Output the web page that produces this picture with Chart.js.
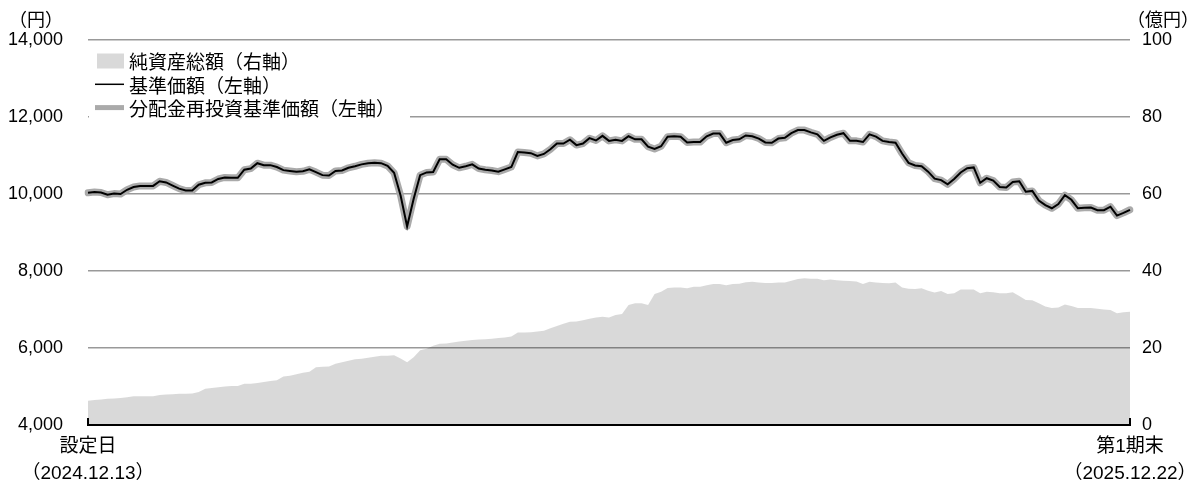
<!DOCTYPE html>
<html lang="ja">
<head>
<meta charset="UTF-8">
<title>基準価額・純資産の推移</title>
<script src="https://cdn.jsdelivr.net/npm/chart.js@4.4.0/dist/chart.umd.min.js"></script>
<style>
  body { margin: 0; background: #fff; }
</style>
</head>
<body>
<canvas id="chart" width="1195" height="482"></canvas>
<script>
// 基準価額（円）
const basePrice = [
  10030, 10050, 10040, 9980, 10010, 10000, 10110, 10180, 10210, 10210,
  10210, 10330, 10300, 10220, 10140, 10090, 10090, 10240, 10290, 10300,
  10390, 10430, 10420, 10420, 10630, 10660, 10800, 10750, 10750, 10700,
  10620, 10600, 10580, 10590, 10640, 10570, 10490, 10480, 10600, 10610,
  10680, 10720, 10770, 10800, 10810, 10800, 10730, 10550, 9960, 9160,
  9870, 10490, 10560, 10570, 10900, 10900, 10760, 10680, 10720, 10770,
  10660, 10630, 10610, 10580, 10640, 10700, 11090, 11080, 11060, 10990,
  11040, 11160, 11310, 11310, 11410, 11270, 11310, 11450, 11390, 11510,
  11380, 11410, 11380, 11500, 11420, 11420, 11230, 11170, 11240, 11490,
  11500, 11490, 11340, 11350, 11350, 11500, 11570, 11570, 11330, 11400,
  11420, 11520, 11500, 11440, 11340, 11330, 11440, 11460, 11580, 11660,
  11660, 11600, 11550, 11380, 11470, 11540, 11580, 11380, 11380, 11350,
  11550, 11490, 11380, 11350, 11330, 11050, 10810, 10740, 10720, 10580,
  10400, 10360, 10250, 10390, 10560, 10670, 10690, 10290, 10410, 10350,
  10180, 10170, 10310, 10330, 10060, 10080, 9830, 9710, 9630, 9740,
  9970, 9850, 9630, 9640, 9650, 9580, 9580, 9670, 9440, 9510, 9590
];
// 分配金再投資基準価額（円）: 分配なしのため基準価額と重なる
const reinvestPrice = [
  10030, 10050, 10040, 9980, 10010, 10000, 10110, 10180, 10210, 10210,
  10210, 10330, 10300, 10220, 10140, 10090, 10090, 10240, 10290, 10300,
  10390, 10430, 10420, 10420, 10630, 10660, 10800, 10750, 10750, 10700,
  10620, 10600, 10580, 10590, 10640, 10570, 10490, 10480, 10600, 10610,
  10680, 10720, 10770, 10800, 10810, 10800, 10730, 10550, 9960, 9160,
  9870, 10490, 10560, 10570, 10900, 10900, 10760, 10680, 10720, 10770,
  10660, 10630, 10610, 10580, 10640, 10700, 11090, 11080, 11060, 10990,
  11040, 11160, 11310, 11310, 11410, 11270, 11310, 11450, 11390, 11510,
  11380, 11410, 11380, 11500, 11420, 11420, 11230, 11170, 11240, 11490,
  11500, 11490, 11340, 11350, 11350, 11500, 11570, 11570, 11330, 11400,
  11420, 11520, 11500, 11440, 11340, 11330, 11440, 11460, 11580, 11660,
  11660, 11600, 11550, 11380, 11470, 11540, 11580, 11380, 11380, 11350,
  11550, 11490, 11380, 11350, 11330, 11050, 10810, 10740, 10720, 10580,
  10400, 10360, 10250, 10390, 10560, 10670, 10690, 10290, 10410, 10350,
  10180, 10170, 10310, 10330, 10060, 10080, 9830, 9710, 9630, 9740,
  9970, 9850, 9630, 9640, 9650, 9580, 9580, 9670, 9440, 9510, 9590
];
// 純資産総額（億円）
const netAssets = [
  6.3, 6.5, 6.6, 6.8, 6.9, 7.0, 7.2, 7.5, 7.5, 7.5,
  7.5, 7.8, 7.9, 8.0, 8.1, 8.1, 8.2, 8.6, 9.4, 9.6,
  9.8, 10.0, 10.1, 10.1, 10.7, 10.7, 10.9, 11.2, 11.4, 11.6,
  12.6, 12.8, 13.2, 13.6, 13.8, 15.0, 15.1, 15.2, 15.9, 16.3,
  16.7, 17.1, 17.2, 17.5, 17.7, 18.0, 18.0, 18.1, 17.3, 16.3,
  17.6, 19.4, 19.8, 20.6, 21.1, 21.2, 21.4, 21.7, 21.9, 22.1,
  22.2, 22.3, 22.4, 22.6, 22.7, 23.0, 24.0, 24.0, 24.1, 24.3,
  24.5, 25.1, 25.7, 26.3, 26.8, 26.9, 27.2, 27.6, 27.9, 28.1,
  27.9, 28.6, 28.8, 31.2, 31.6, 31.6, 31.2, 34.0, 34.6, 35.6,
  35.7, 35.7, 35.5, 35.9, 35.9, 36.3, 36.6, 36.6, 36.3, 36.6,
  36.7, 37.1, 37.2, 37.0, 36.9, 36.9, 37.0, 37.0, 37.5, 37.9,
  38.1, 38.0, 38.0, 37.6, 37.8, 37.6, 37.5, 37.4, 37.3, 36.6,
  37.2, 37.0, 36.9, 36.8, 37.0, 35.7, 35.4, 35.3, 35.5, 34.9,
  34.4, 34.8, 34.0, 34.2, 35.2, 35.2, 35.2, 34.2, 34.6, 34.5,
  34.2, 34.2, 34.5, 33.5, 32.5, 32.4, 31.6, 30.8, 30.4, 30.5,
  31.3, 30.9, 30.4, 30.4, 30.4, 30.2, 30.0, 29.9, 29.0, 29.3, 29.4
];
const startLabel = ['設定日', '（2024.12.13）'];
const endLabel = ['第1期末', '（2025.12.22）'];
const leftUnit = '（円）';
const rightUnit = '（億円）';

const labels = basePrice.map((v, i) => i);
const cjk = '"Noto Sans CJK JP", sans-serif';
Chart.defaults.font.family = '"Liberation Sans", "Noto Sans CJK JP", sans-serif';
Chart.defaults.color = '#000';

// units, legend box and end ticks of the bottom axis
const decor = {
  id: 'decor',
  afterDraw(chart) {
    const ctx = chart.ctx;
    const a = chart.chartArea;
    ctx.save();
    ctx.strokeStyle = '#000';
    ctx.lineWidth = 2;
    ctx.beginPath();
    ctx.moveTo(a.left, a.bottom - 7); ctx.lineTo(a.left, a.bottom);
    ctx.moveTo(a.right, a.bottom - 7); ctx.lineTo(a.right, a.bottom);
    ctx.stroke();

    ctx.fillStyle = '#000';
    ctx.font = '18px ' + cjk;
    ctx.textAlign = 'center';
    ctx.textBaseline = 'middle';
    ctx.fillText(leftUnit, 36, 19);
    ctx.fillText(rightUnit, 1163, 19);

    ctx.fillStyle = '#fff';
    ctx.fillRect(a.left + 1, 44, 321, 80);
    ctx.font = '19px ' + cjk;
    ctx.textAlign = 'left';
    chart.data.datasets.forEach((ds, i) => {
      const y = 61 + i * 23.3;
      if (ds.fill) {
        ctx.fillStyle = '#d9d9d9';
        ctx.fillRect(97, y - 7.5, 27, 15);
      } else {
        ctx.strokeStyle = ds.borderColor;
        ctx.lineWidth = ds.borderWidth === 2 ? 1.5 : 5;
        ctx.beginPath();
        ctx.moveTo(95, y); ctx.lineTo(124, y);
        ctx.stroke();
      }
      ctx.fillStyle = '#000';
      ctx.fillText(ds.label, 129, y + 1);
    });
    ctx.restore();
  }
};

new Chart(document.getElementById('chart'), {
  type: 'line',
  data: {
    labels: labels,
    datasets: [
      { label: '純資産総額（右軸）', data: netAssets, yAxisID: 'y2', fill: 'origin',
        backgroundColor: 'rgba(0,0,0,0.15)', borderWidth: 0, pointRadius: 0, order: 3 },
      { label: '基準価額（左軸）', data: basePrice, yAxisID: 'y', fill: false,
        borderColor: '#000', borderWidth: 2, pointRadius: 0, order: 1 },
      { label: '分配金再投資基準価額（左軸）', data: reinvestPrice, yAxisID: 'y', fill: false,
        borderColor: '#aaaaaa', borderWidth: 7, pointRadius: 0, order: 2,
        borderJoinStyle: 'round', borderCapStyle: 'round' }
    ]
  },
  options: {
    responsive: false,
    animation: false,
    layout: { padding: { top: 40, left: 0, right: 0, bottom: 0 } },
    plugins: { legend: { display: false }, tooltip: { enabled: false } },
    scales: {
      x: {
        grid: { display: false, drawTicks: false },
        border: { display: true, color: '#000', width: 2 },
        ticks: {
          autoSkip: false, maxRotation: 0, minRotation: 0, padding: 8,
          font: { size: 19, lineHeight: 1.42 },
          callback: (v, i, t) => i === 0 ? startLabel : (i === t.length - 1 ? endLabel : '')
        },
        afterFit(s) { s.height = 57; s.paddingLeft = 0; s.paddingRight = 0; }
      },
      y: {
        position: 'left', min: 4000, max: 14000,
        grid: { color: '#999', lineWidth: 1.5, drawTicks: false },
        border: { display: false },
        ticks: { stepSize: 2000, padding: 25, font: { size: 18 },
          callback: v => v.toLocaleString('en-US') },
        afterFit(s) { s.width = 88; }
      },
      y2: {
        position: 'right', min: 0, max: 100,
        grid: { display: false, drawTicks: false },
        border: { display: false },
        ticks: { stepSize: 20, padding: 12, font: { size: 18 } },
        afterFit(s) { s.width = 65; }
      }
    }
  },
  plugins: [decor]
});
</script>
</body>
</html>
